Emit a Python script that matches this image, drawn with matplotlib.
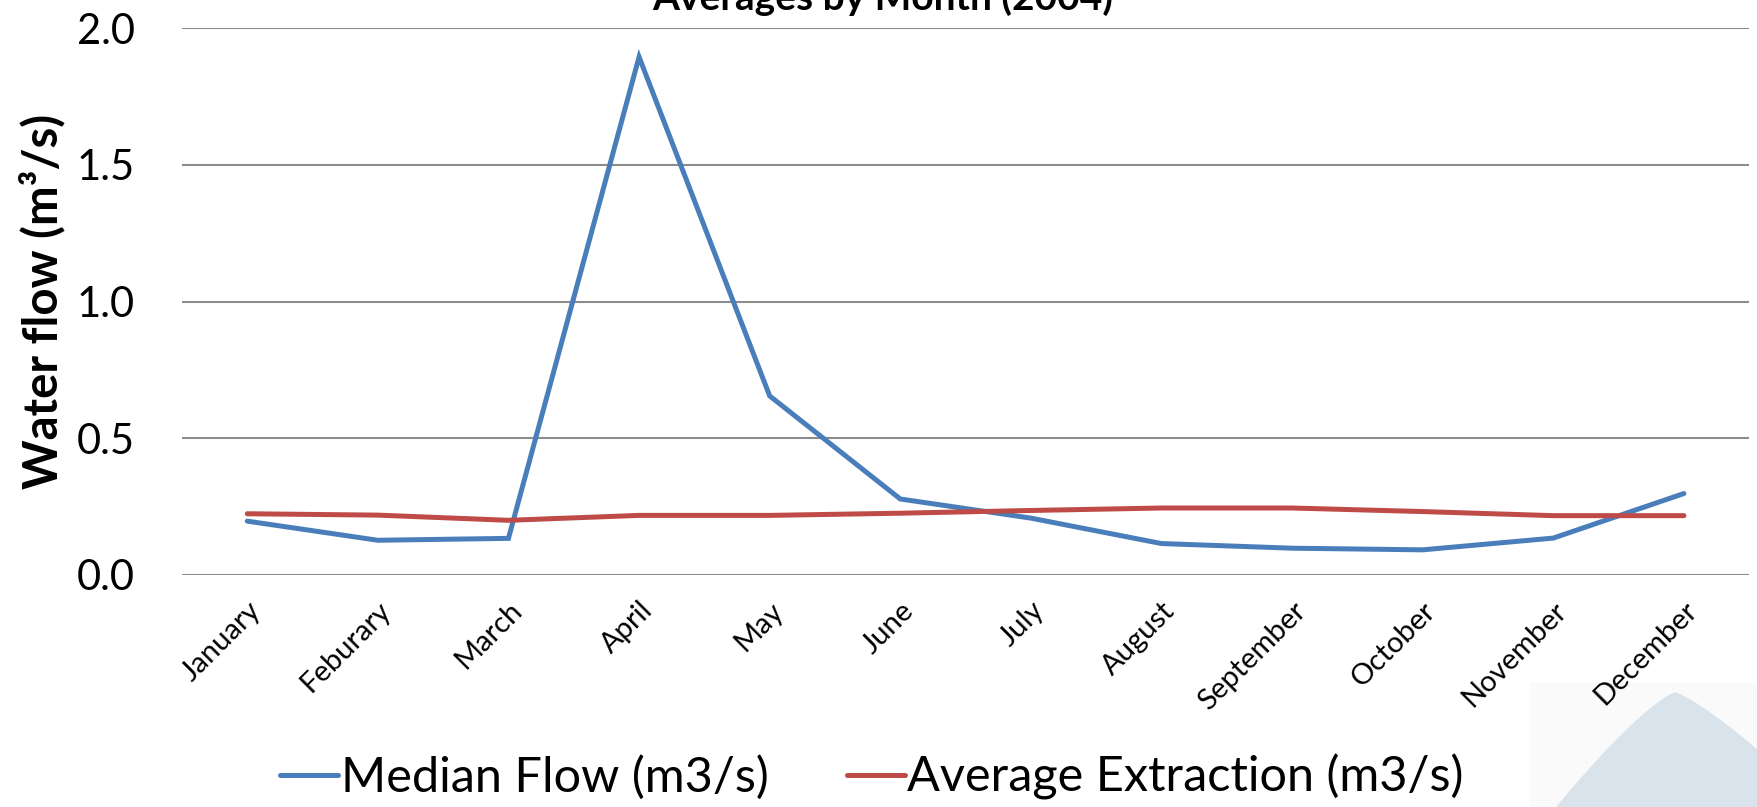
import numpy as np
import matplotlib.pyplot as plt
from matplotlib.patches import Polygon, Rectangle

months = ['January', 'Feburary', 'March', 'April', 'May', 'June', 'July',
          'August', 'September', 'October', 'November', 'December']
median_flow = [0.197, 0.127, 0.134, 1.895, 0.655, 0.278, 0.208, 0.115,
               0.098, 0.092, 0.135, 0.298]
avg_extraction = [0.224, 0.219, 0.200, 0.218, 0.218, 0.226, 0.236, 0.245,
                  0.245, 0.232, 0.217, 0.217]
yticks = [0.0, 0.5, 1.0, 1.5, 2.0]

plt.rcParams['font.family'] = ['Lato', 'DejaVu Sans']

fig = plt.figure(figsize=(17.58, 8.07), dpi=100)
ax = fig.add_axes([0.1035, 0.2875, 0.8915, 0.6775])
ax.set_zorder(2)

# decorative watermark in the bottom-right corner (behind everything)
fig.patches.append(Rectangle((1530 / 1758, 0), 1 - 1530 / 1758, 124 / 807,
                             transform=fig.transFigure, color='#fafafa', zorder=-2))
t = np.linspace(0, 1, 40)
left_x = 1675 - 118 * t ** 0.88
left_y = 693 + 114 * t ** 1.1
right_x = 1675 + 83 * t ** 0.9
right_y = 693 + 58 * t ** 1.1
pts = np.vstack([np.column_stack([left_x[::-1], left_y[::-1]]),
                 np.column_stack([right_x, right_y]),
                 [[1758, 807]]])
pts = np.column_stack([pts[:, 0] / 1758, 1 - pts[:, 1] / 807])
fig.patches.append(Polygon(pts, closed=True, transform=fig.transFigure,
                           color='#d9e3ec', zorder=-1))

x = np.arange(len(months))
ax.plot(x, median_flow, color='#4a7ebb', lw=3.6, solid_capstyle='round',
        solid_joinstyle='miter', label='Median Flow (m3/s)', zorder=3)
ax.plot(x, avg_extraction, color='#be4b48', lw=3.6, solid_capstyle='round',
        solid_joinstyle='miter', label='Average Extraction (m3/s)', zorder=3)

ax.set_xlim(-0.5, len(months) - 0.5)
ax.set_ylim(0, 2.0)
ax.set_yticks(yticks)
ax.set_yticklabels([f'{v:.1f}' for v in yticks], fontsize=30)
ax.set_xticks(x)
ax.set_xticklabels(months, rotation=45, ha='right', rotation_mode='anchor',
                   fontsize=21)
ax.tick_params(axis='both', length=0)
ax.tick_params(axis='x', pad=16)
ax.tick_params(axis='y', pad=34)
ax.grid(axis='y', color='#8c8c8c', lw=1.5)
ax.set_axisbelow(True)
for s in ax.spines.values():
    s.set_visible(False)
ax.patch.set_alpha(0)

ax.set_ylabel('Water flow (m³/s)', fontsize=34, fontweight='bold', labelpad=8)

fig.text(0.502, 1 - 10 / 807, 'Averages by Month (2004)', ha='center',
         va='baseline', fontsize=28, fontweight='bold')

fig.legend(loc='center', bbox_to_anchor=(0.496, 1 - 777 / 807), ncol=2,
           frameon=False, fontsize=35, handlelength=1.2, handletextpad=0.05,
           columnspacing=1.6)

fig.savefig('out.png', dpi=100)
